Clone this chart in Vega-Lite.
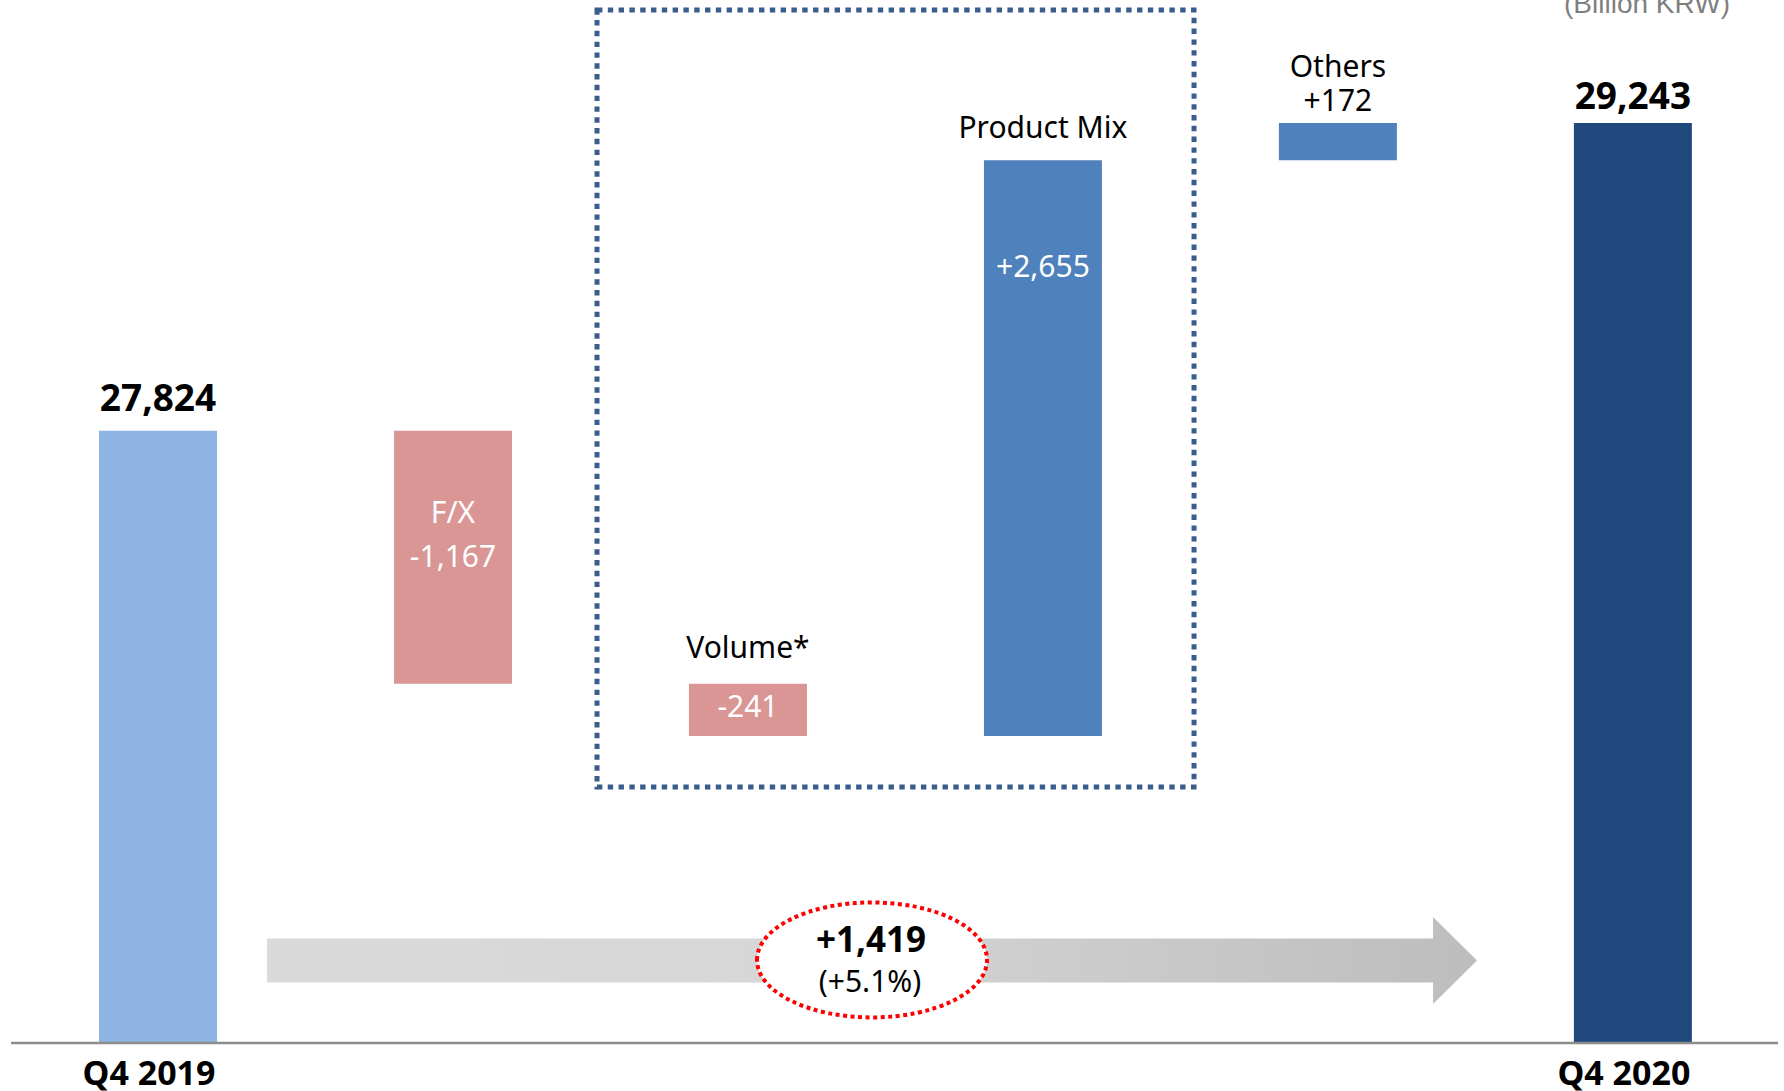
{
  "$schema": "https://vega.github.io/schema/vega-lite/v6.json",
  "width": 1784,
  "height": 1091,
  "autosize": {"type": "none"},
  "padding": 0,
  "background": "white",
  "config": {"view": {"stroke": null}},
  "datasets": {
    "bars": [
      {"category": "Q4 2019", "start": 25000, "end": 27824, "type": "t19"},
      {"category": "F/X", "start": 27824, "end": 26657, "type": "neg"},
      {"category": "Volume*", "start": 26657, "end": 26416, "type": "neg"},
      {"category": "Product Mix", "start": 26416, "end": 29071, "type": "pos"},
      {"category": "Others", "start": 29071, "end": 29243, "type": "pos"},
      {"category": "Q4 2020", "start": 25000, "end": 29243, "type": "t20"}
    ],
    "labels": [
      {"category": "Q4 2019", "text": "27,824", "y": 27916, "kind": "total"},
      {"category": "Q4 2020", "text": "29,243", "y": 29308, "kind": "total"},
      {"category": "F/X", "text": "F/X", "y": 27398, "kind": "inner"},
      {"category": "F/X", "text": "-1,167", "y": 27195, "kind": "inner"},
      {"category": "Volume*", "text": "Volume*", "y": 26776, "kind": "name"},
      {"category": "Volume*", "text": "-241", "y": 26503, "kind": "inner"},
      {"category": "Product Mix", "text": "Product Mix", "y": 29174, "kind": "name"},
      {"category": "Product Mix", "text": "+2,655", "y": 28533, "kind": "inner"},
      {"category": "Others", "text": "Others", "y": 29455, "kind": "name"},
      {"category": "Others", "text": "+172", "y": 29298, "kind": "name"},
      {"category": "Q4 2019", "text": "Q4 2019", "y": 24806, "kind": "axis"},
      {"category": "Q4 2020", "text": "Q4 2020", "y": 24806, "kind": "axis"}
    ],
    "notes": [
      {"item": "box", "u": 1.4883, "u2": 3.5123, "v": 29764, "v2": 26181},
      {"item": "arrow", "u": 2.4206, "v": 25380},
      {"item": "ellipse", "u": 2.4206, "v": 25383},
      {"item": "baseline", "u": -0.4984, "u2": 5.4922, "v": 25000},
      {"item": "big", "text": "+1,419", "u": 2.417, "v": 25420},
      {"item": "small", "text": "(+5.1%)", "u": 2.4138, "v": 25235},
      {"item": "unit", "text": "(Billion KRW)", "u": 5.048, "v": 29750}
    ]
  },
  "layer": [
    {
      "layer": [
        {
          "data": {"name": "bars"},
          "mark": {"type": "bar"},
          "encoding": {
            "x": {"field": "category", "type": "nominal", "axis": null,
                  "scale": {"type": "band", "domain": ["Q4 2019", "F/X", "Volume*", "Product Mix", "Others", "Q4 2020"], "paddingInner": 0.6, "paddingOuter": 0.324, "align": 0.518}},
            "y": {"field": "start", "type": "quantitative", "axis": null, "scale": {"domain": [24778.6, 29810.2], "nice": false, "zero": false}},
            "y2": {"field": "end"},
            "color": {"field": "type", "type": "nominal", "legend": null,
                      "scale": {"domain": ["t19", "neg", "pos", "t20"], "range": ["#8eb4e3", "#d99694", "#4f81bd", "#1f497d"]}}
          }
        },
        {
          "data": {"name": "labels"},
          "transform": [{"filter": "datum.kind === 'total'"}],
          "mark": {"type": "text", "font": "Noto Sans", "fontWeight": "bold", "fontSize": 37, "color": "#000000", "align": "center", "baseline": "alphabetic"},
          "encoding": {
            "x": {"field": "category", "type": "nominal", "axis": null,
                  "scale": {"type": "band", "domain": ["Q4 2019", "F/X", "Volume*", "Product Mix", "Others", "Q4 2020"], "paddingInner": 0.6, "paddingOuter": 0.324, "align": 0.518}},
            "y": {"field": "y", "type": "quantitative", "axis": null, "scale": {"domain": [24778.6, 29810.2], "nice": false, "zero": false}},
            "text": {"field": "text"}
          }
        },
        {
          "data": {"name": "labels"},
          "transform": [{"filter": "datum.kind === 'axis'"}],
          "mark": {"type": "text", "font": "Noto Sans", "fontWeight": "bold", "fontSize": 34, "color": "#000000", "align": "center", "baseline": "alphabetic", "dx": -9},
          "encoding": {
            "x": {"field": "category", "type": "nominal", "axis": null,
                  "scale": {"type": "band", "domain": ["Q4 2019", "F/X", "Volume*", "Product Mix", "Others", "Q4 2020"], "paddingInner": 0.6, "paddingOuter": 0.324, "align": 0.518}},
            "y": {"field": "y", "type": "quantitative", "axis": null, "scale": {"domain": [24778.6, 29810.2], "nice": false, "zero": false}},
            "text": {"field": "text"}
          }
        },
        {
          "data": {"name": "labels"},
          "transform": [{"filter": "datum.kind === 'name'"}],
          "mark": {"type": "text", "font": "Noto Sans", "fontSize": 30, "color": "#000000", "align": "center", "baseline": "alphabetic"},
          "encoding": {
            "x": {"field": "category", "type": "nominal", "axis": null,
                  "scale": {"type": "band", "domain": ["Q4 2019", "F/X", "Volume*", "Product Mix", "Others", "Q4 2020"], "paddingInner": 0.6, "paddingOuter": 0.324, "align": 0.518}},
            "y": {"field": "y", "type": "quantitative", "axis": null, "scale": {"domain": [24778.6, 29810.2], "nice": false, "zero": false}},
            "text": {"field": "text"}
          }
        },
        {
          "data": {"name": "labels"},
          "transform": [{"filter": "datum.kind === 'inner'"}],
          "mark": {"type": "text", "font": "Noto Sans", "fontSize": 30, "color": "#ffffff", "align": "center", "baseline": "alphabetic"},
          "encoding": {
            "x": {"field": "category", "type": "nominal", "axis": null,
                  "scale": {"type": "band", "domain": ["Q4 2019", "F/X", "Volume*", "Product Mix", "Others", "Q4 2020"], "paddingInner": 0.6, "paddingOuter": 0.324, "align": 0.518}},
            "y": {"field": "y", "type": "quantitative", "axis": null, "scale": {"domain": [24778.6, 29810.2], "nice": false, "zero": false}},
            "text": {"field": "text"}
          }
        }
      ]
    },
    {
      "layer": [
        {
          "data": {"name": "notes"},
          "transform": [{"filter": "datum.item === 'box'"}],
          "mark": {"type": "rect", "fillOpacity": 0, "stroke": "#395d8c", "strokeWidth": 5, "strokeDash": [5.4, 5.4]},
          "encoding": {
            "x": {"field": "u", "type": "quantitative", "axis": null, "scale": {"domain": [-0.5357, 5.5124], "nice": false, "zero": false}},
            "x2": {"field": "u2"},
            "y": {"field": "v", "type": "quantitative", "axis": null, "scale": {"domain": [24778.6, 29810.2], "nice": false, "zero": false}},
            "y2": {"field": "v2"}
          }
        },
        {
          "data": {"name": "notes"},
          "transform": [{"filter": "datum.item === 'arrow'"}],
          "mark": {"type": "point", "filled": true, "opacity": 1, "strokeWidth": 0, "size": 1464100,
                   "shape": "M-1,-0.0364L0.9273,-0.0364L0.9273,-0.0719L1,0L0.9273,0.0719L0.9273,0.0364L-1,0.0364Z",
                   "fill": {"gradient": "linear", "x1": 0, "y1": 0, "x2": 1, "y2": 0,
                            "stops": [{"offset": 0, "color": "#dadada"}, {"offset": 0.45, "color": "#d6d6d6"}, {"offset": 1, "color": "#bdbdbd"}]}},
          "encoding": {
            "x": {"field": "u", "type": "quantitative", "axis": null, "scale": {"domain": [-0.5357, 5.5124], "nice": false, "zero": false}},
            "y": {"field": "v", "type": "quantitative", "axis": null, "scale": {"domain": [24778.6, 29810.2], "nice": false, "zero": false}}
          }
        },
        {
          "data": {"name": "notes"},
          "transform": [{"filter": "datum.item === 'ellipse'"}],
          "mark": {"type": "point", "filled": false, "opacity": 1, "fill": "#ffffff", "fillOpacity": 1, "stroke": "#ff0000", "strokeWidth": 4, "strokeDash": [4, 3.5], "size": 52900,
                   "shape": "M-1,0C-1,-0.2761,-0.5523,-0.5,0,-0.5C0.5523,-0.5,1,-0.2761,1,0C1,0.2761,0.5523,0.5,0,0.5C-0.5523,0.5,-1,0.2761,-1,0Z"},
          "encoding": {
            "x": {"field": "u", "type": "quantitative", "axis": null, "scale": {"domain": [-0.5357, 5.5124], "nice": false, "zero": false}},
            "y": {"field": "v", "type": "quantitative", "axis": null, "scale": {"domain": [24778.6, 29810.2], "nice": false, "zero": false}}
          }
        },
        {
          "data": {"name": "notes"},
          "transform": [{"filter": "datum.item === 'baseline'"}],
          "mark": {"type": "rule", "stroke": "#8c8c8c", "strokeWidth": 2.5},
          "encoding": {
            "x": {"field": "u", "type": "quantitative", "axis": null, "scale": {"domain": [-0.5357, 5.5124], "nice": false, "zero": false}},
            "x2": {"field": "u2"},
            "y": {"field": "v", "type": "quantitative", "axis": null, "scale": {"domain": [24778.6, 29810.2], "nice": false, "zero": false}}
          }
        },
        {
          "data": {"name": "notes"},
          "transform": [{"filter": "datum.item === 'big'"}],
          "mark": {"type": "text", "font": "Noto Sans", "fontWeight": "bold", "fontSize": 35, "color": "#000000", "align": "center", "baseline": "alphabetic"},
          "encoding": {
            "x": {"field": "u", "type": "quantitative", "axis": null, "scale": {"domain": [-0.5357, 5.5124], "nice": false, "zero": false}},
            "y": {"field": "v", "type": "quantitative", "axis": null, "scale": {"domain": [24778.6, 29810.2], "nice": false, "zero": false}},
            "text": {"field": "text"}
          }
        },
        {
          "data": {"name": "notes"},
          "transform": [{"filter": "datum.item === 'small'"}],
          "mark": {"type": "text", "font": "Noto Sans", "fontSize": 30, "color": "#000000", "align": "center", "baseline": "alphabetic"},
          "encoding": {
            "x": {"field": "u", "type": "quantitative", "axis": null, "scale": {"domain": [-0.5357, 5.5124], "nice": false, "zero": false}},
            "y": {"field": "v", "type": "quantitative", "axis": null, "scale": {"domain": [24778.6, 29810.2], "nice": false, "zero": false}},
            "text": {"field": "text"}
          }
        },
        {
          "data": {"name": "notes"},
          "transform": [{"filter": "datum.item === 'unit'"}],
          "mark": {"type": "text", "font": "Liberation Sans", "fontSize": 28, "color": "#7f7f7f", "align": "center", "baseline": "alphabetic"},
          "encoding": {
            "x": {"field": "u", "type": "quantitative", "axis": null, "scale": {"domain": [-0.5357, 5.5124], "nice": false, "zero": false}},
            "y": {"field": "v", "type": "quantitative", "axis": null, "scale": {"domain": [24778.6, 29810.2], "nice": false, "zero": false}},
            "text": {"field": "text"}
          }
        }
      ]
    }
  ],
  "resolve": {"scale": {"x": "independent"}}
}
